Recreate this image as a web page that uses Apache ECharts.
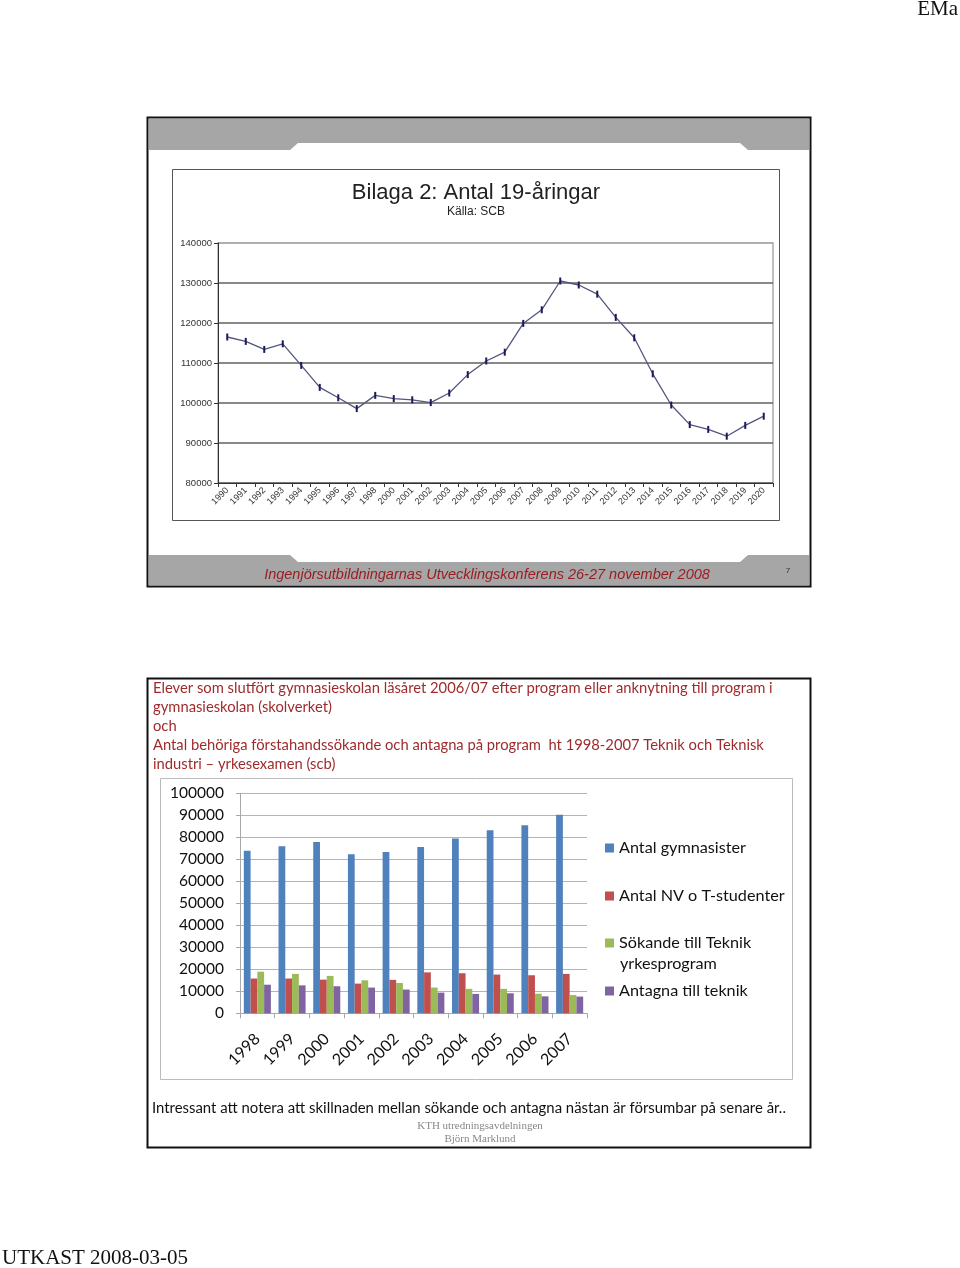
<!DOCTYPE html>
<html><head><meta charset="utf-8">
<script src="https://cdn.jsdelivr.net/npm/echarts@6/dist/echarts.min.js"></script>
<style>html,body{margin:0;padding:0;background:#fff}#c{width:960px;height:1268px}</style>
</head><body><div id="c"></div>
<script>
// ---- Chart 1: Antal 19-åringar (SCB) ----
const years19 = ['1990','1991','1992','1993','1994','1995','1996','1997','1998','2000','2001','2002','2003','2004','2005','2006','2007','2008','2009','2010','2011','2012','2013','2014','2015','2016','2017','2018','2019','2020'];
const count19 = [116500,115400,113400,114800,109400,103900,101300,98600,101900,101100,100800,100100,102500,107100,110500,112700,119900,123300,130500,129500,127200,121400,116300,107300,99500,94600,93400,91700,94400,96700];

// ---- Chart 2: gymnasiet / teknik ----
const barYears = ['1998','1999','2000','2001','2002','2003','2004','2005','2006','2007'];
const seriesNames = ['Antal gymnasister','Antal NV o T-studenter','Sökande till Teknik','Antagna till teknik'];
const gymnasister = [73900,75900,77900,72300,73300,75600,79500,83200,85500,90300];
const nvT = [15800,15800,15300,13500,15200,18600,18200,17600,17300,17900];
const sokande = [18900,17900,17000,15000,13800,11700,11100,11100,8900,8300];
const antagna = [13000,12700,12300,11700,10800,9400,8800,9100,7700,7600];
const barColors = ['#4F81BD','#C0504D','#9BBB59','#8064A2'];

const introLines = [
  'Elever som slutfört gymnasieskolan läsåret 2006/07 efter program eller anknytning till program i',
  'gymnasieskolan (skolverket)',
  'och',
  'Antal behöriga förstahandssökande och antagna på program  ht 1998-2007 Teknik och Teknisk',
  'industri – yrkesexamen (scb)'
];

const red = '#9f2a2c';
const cal = 'Lato';
const chart = echarts.init(document.getElementById('c'), null, {renderer:'canvas'});

const graphics = [
  // top slide
  {type:'rect', shape:{x:147.5,y:117.5,width:663,height:469}, style:{fill:'#fff',stroke:'#111',lineWidth:2}, z:-10},
  {type:'polygon', shape:{points:[[149,119],[809,119],[809,150],[748,150],[740,143],[298,143],[290,150],[149,150]]}, style:{fill:'#a6a6a6'}, z:-9},
  {type:'polygon', shape:{points:[[149,585],[809,585],[809,555],[748,555],[740,562],[298,562],[290,555],[149,555]]}, style:{fill:'#a6a6a6'}, z:-9},
  {type:'rect', shape:{x:172.5,y:169.5,width:607,height:351}, style:{fill:'#fff',stroke:'#555',lineWidth:1}, z:-8},
  {type:'text', x:476, y:193, style:{text:'Bilaga 2: Antal 19-åringar', font:'22px "Liberation Sans", Arial', fill:'#222', textAlign:'center', textVerticalAlign:'middle'}},
  {type:'text', x:476, y:212, style:{text:'Källa: SCB', font:'12px "Liberation Sans", Arial', fill:'#222', textAlign:'center', textVerticalAlign:'middle'}},
  {type:'text', x:487, y:575, style:{text:'Ingenjörsutbildningarnas Utvecklingskonferens 26-27 november 2008', font:'italic 14.5px "Liberation Sans", Arial', fill:'#9a1b1e', textAlign:'center', textVerticalAlign:'middle'}},
  {type:'text', x:788, y:571, style:{text:'7', font:'8px "Liberation Sans", Arial', fill:'#333', textAlign:'center', textVerticalAlign:'middle'}},
  // bottom slide
  {type:'rect', shape:{x:147.5,y:678.5,width:663,height:469}, style:{fill:'#fff',stroke:'#111',lineWidth:2}, z:-10},
  {type:'rect', shape:{x:160.5,y:778.5,width:632,height:301}, style:{fill:'#fff',stroke:'#bbb',lineWidth:1}, z:-8},
  {type:'text', x:620, y:964, style:{text:'yrkesprogram', font:'16.2px '+cal, fill:'#111', textAlign:'left', textVerticalAlign:'middle'}},
  {type:'text', x:152, y:1108, style:{text:'Intressant att notera att skillnaden mellan sökande och antagna nästan är försumbar på senare år..', font:'14.9px '+cal, fill:'#111', textAlign:'left', textVerticalAlign:'middle'}},
  {type:'text', x:480, y:1126, style:{text:'KTH utredningsavdelningen', font:'11px "Liberation Serif"', fill:'#888', textAlign:'center', textVerticalAlign:'middle'}},
  {type:'text', x:480, y:1139, style:{text:'Björn Marklund', font:'11px "Liberation Serif"', fill:'#888', textAlign:'center', textVerticalAlign:'middle'}},
  // page
  {type:'text', x:958, y:9, style:{text:'EMa', font:'21px "Liberation Serif"', fill:'#111', textAlign:'right', textVerticalAlign:'middle'}},
  {type:'text', x:2, y:1258, style:{text:'UTKAST 2008-03-05', font:'21px "Liberation Serif"', fill:'#111', textAlign:'left', textVerticalAlign:'middle'}}
];
introLines.forEach((t,i)=>{
  graphics.push({type:'text', x:153, y:688+i*19, style:{text:t, font:'14.75px '+cal, fill:red, textAlign:'left', textVerticalAlign:'middle'}});
});

const legendTops = [848,896,943,991];
const legends = seriesNames.map((n,i)=>({
  data:[n], left:605, top:legendTops[i]-10, orient:'vertical', selectedMode:false, padding:0,
  icon:'rect', itemWidth:9, itemHeight:9, itemGap:0,
  textStyle:{fontFamily:cal, fontSize:16.2, color:'#111', lineHeight:20}
}));

const barData = [gymnasister, nvT, sokande, antagna];
const plain = v => String(v);

const option = {
  animation:false,
  graphic:graphics,
  legend:legends,
  grid:[
    {left:218, top:243, width:555, height:240, show:true, borderColor:'#aaa', borderWidth:1.5, backgroundColor:'transparent'},
    {left:240, top:793.3, width:347, height:220}
  ],
  xAxis:[
    {gridIndex:0, type:'category', data:years19, boundaryGap:true,
     axisLine:{lineStyle:{color:'#333',width:1}},
     axisTick:{show:true, length:4, interval:0, lineStyle:{color:'#333'}},
     axisLabel:{interval:0, rotate:45, fontSize:9, fontFamily:'"Liberation Sans", Arial', color:'#333', margin:6}},
    {gridIndex:1, type:'category', data:barYears, boundaryGap:true,
     axisLine:{lineStyle:{color:'#a8a8a8',width:1}},
     axisTick:{show:true, length:5, interval:0, lineStyle:{color:'#a8a8a8'}},
     axisLabel:{interval:0, rotate:45, fontSize:16, fontFamily:cal, color:'#111', margin:23}}
  ],
  yAxis:[
    {gridIndex:0, type:'value', min:80000, max:140000, interval:10000,
     axisLine:{show:true, lineStyle:{color:'#333',width:1}},
     axisTick:{show:true, length:4, lineStyle:{color:'#333'}},
     axisLabel:{fontSize:9.5, fontFamily:'"Liberation Sans", Arial', color:'#333', margin:6, formatter:plain},
     splitLine:{show:true, lineStyle:{color:['#606060','#606060','#606060','#606060','#606060','#606060','#aaa'], width:1.6}}},
    {gridIndex:1, type:'value', min:0, max:100000, interval:10000,
     axisLine:{show:true, lineStyle:{color:'#a8a8a8',width:1}},
     axisTick:{show:true, length:4, lineStyle:{color:'#a8a8a8'}},
     axisLabel:{fontSize:15.5, fontFamily:cal, color:'#111', margin:16, formatter:plain},
     splitLine:{show:true, lineStyle:{color:'#b4b4b4', width:1}}}
  ],
  series:[
    {type:'line', xAxisIndex:0, yAxisIndex:0, data:count19, symbol:'rect', symbolSize:[2,7],
     lineStyle:{color:'#55557f', width:1.3}, itemStyle:{color:'#1a1a5a'}, z:5},
    ...barData.map((d,i)=>({
      type:'bar', name:seriesNames[i], xAxisIndex:1, yAxisIndex:1, data:d,
      barGap:'0%', barCategoryGap:'22%', itemStyle:{color:barColors[i]}
    }))
  ]
};
chart.setOption(option);
</script>
</body></html>
